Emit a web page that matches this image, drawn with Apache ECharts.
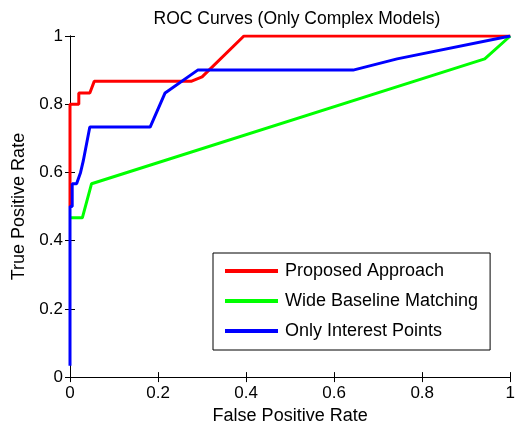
<!DOCTYPE html>
<html>
<head>
<meta charset="utf-8">
<script src="https://cdn.jsdelivr.net/npm/echarts@6/dist/echarts.min.js"></script>
<style>
  html, body { margin: 0; padding: 0; background: #fff; }
  #chart { width: 518px; height: 430px; }
</style>
</head>
<body>
<div id="chart"></div>
<script>
const seriesNames = ["Proposed Approach", "Wide Baseline Matching", "Only Interest Points"];

const redX = [0, 0, 0.02, 0.02, 0.045, 0.055, 0.275, 0.30, 0.395, 1];
const redY = [0.5, 0.8, 0.8, 0.833, 0.833, 0.867, 0.867, 0.88, 1, 1];

const greenX = [0, 0.028, 0.049, 0.942, 1];
const greenY = [0.467, 0.467, 0.567, 0.933, 1];

const blueX = [0, 0, 0.005, 0.005, 0.015, 0.024, 0.028, 0.03, 0.045, 0.182, 0.216, 0.29, 0.643, 0.743, 1];
const blueY = [0.033, 0.5, 0.5, 0.567, 0.567, 0.6, 0.6, 0.633, 0.733, 0.733, 0.833, 0.9, 0.9, 0.933, 1];

const xTicks = [0, 0.2, 0.4, 0.6, 0.8, 1];
const yTicks = [0, 0.2, 0.4, 0.6, 0.8, 1];

const pairs = (xs, ys) => xs.map((x, i) => [x, ys[i]]);
const font = "Liberation Sans, Arial, sans-serif";

const chart = echarts.init(document.getElementById("chart"));

const baseAxis = {
  type: "value",
  min: xTicks[0],
  max: xTicks[xTicks.length - 1],
  interval: 0.2,
  axisLine: { show: true, lineStyle: { color: "#000", width: 1 } },
  axisTick: { show: true, inside: true, length: 5, lineStyle: { color: "#000" } },
  splitLine: { show: false }
};

const label = { color: "#000", fontSize: 17, fontFamily: font };

chart.setOption({
  animation: false,
  title: {
    text: "ROC Curves (Only Complex Models)",
    left: 292,
    top: 5,
    textAlign: "center",
    textStyle: { color: "#000", fontSize: 17.5, fontWeight: "normal", fontFamily: font }
  },
  grid: { left: 70, right: 4, top: 36, bottom: 52 },
  xAxis: [
    {
      ...baseAxis,
      position: "bottom",
      axisLabel: { ...label, margin: 8 },
      name: "False Positive Rate",
      nameLocation: "middle",
      nameGap: 29,
      nameTextStyle: { ...label, fontSize: 18 }
    },
    { ...baseAxis, position: "top", axisLabel: { show: false } }
  ],
  yAxis: [
    {
      ...baseAxis,
      min: yTicks[0],
      max: yTicks[yTicks.length - 1],
      position: "left",
      axisLabel: { ...label, margin: 7 },
      name: "True Positive Rate",
      nameLocation: "middle",
      nameGap: 41,
      nameTextStyle: { ...label, fontSize: 18 }
    },
    { ...baseAxis, position: "right", axisLabel: { show: false } }
  ],
  legend: {
    orient: "vertical",
    left: 213,
    top: 253,
    padding: [9, 12, 10, 12],
    itemGap: 12,
    itemWidth: 53,
    itemHeight: 4,
    icon: "rect",
    borderColor: "#000",
    borderWidth: 1,
    backgroundColor: "#fff",
    data: seriesNames,
    textStyle: { color: "#000", fontSize: 18, fontFamily: font, lineHeight: 18, padding: [0, 0, 0, 2] }
  },
  series: [
    { name: seriesNames[0], data: pairs(redX, redY), color: "#ff0000" },
    { name: seriesNames[1], data: pairs(greenX, greenY), color: "#00ff00" },
    { name: seriesNames[2], data: pairs(blueX, blueY), color: "#0000ff" }
  ].map(s => ({
    ...s,
    type: "line",
    showSymbol: false,
    symbol: "none",
    lineStyle: { width: 3, color: s.color },
    itemStyle: { color: s.color }
  }))
});
</script>
</body>
</html>
